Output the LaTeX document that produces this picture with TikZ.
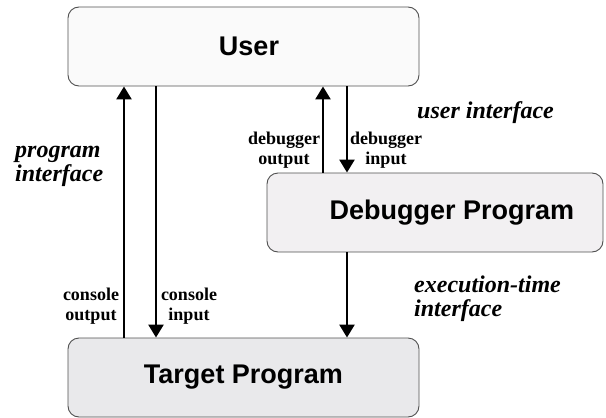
\documentclass[tikz,border=0pt]{standalone}
\usepackage{fontspec}
\setmainfont{Liberation Serif}
\setsansfont{Liberation Sans}
\usetikzlibrary{arrows.meta}
\definecolor{userfill}{HTML}{FAFAFA}
\definecolor{dbgfill}{HTML}{F2F0F2}
\definecolor{tgtfill}{HTML}{E9E9EB}
\definecolor{edge}{HTML}{505050}
\begin{document}
\begin{tikzpicture}[x=1pt,y=-1pt,
        block/.style={draw=edge,line width=0.9pt,rounded corners=11pt,minimum height=79pt,inner sep=0pt},
        blocktext/.style={font=\sffamily\bfseries\fontsize{27}{30}\selectfont,inner sep=0pt},
        flow/.style={line width=2.6pt,-{Triangle[length=13pt,width=15pt]}},
        tag/.style={font=\bfseries\fontsize{18}{20}\selectfont,align=center,inner sep=0pt},
        iface/.style={font=\bfseries\itshape\fontsize{24}{24}\selectfont,align=left,inner sep=0pt}]
    \useasboundingbox (0,0) rectangle (606,418);
    % the three parties
    \node[block,fill=userfill,minimum width=351pt] (user) at (243.5,46.5) {};
    \node[blocktext] (username) at (249,46) {User};
    \node[block,fill=dbgfill,minimum width=336pt] (debugger) at (435,212.5) {};
    \node[blocktext] (dbgname) at (452,213) {Debugger Program};
    \node[block,blocktext,fill=tgtfill,minimum width=351pt] (target) at (243.5,377.5) {Target Program};
    % console and debugger flows
    \draw[flow] ([xshift=-119.5]target.north) -- ([xshift=-119.5]user.south);
    \draw[flow] ([xshift=-87.5]user.south) -- ([xshift=-87.5]target.north);
    \draw[flow] ([xshift=-112]debugger.north) -- ([xshift=79.5]user.south);
    \draw[flow] ([xshift=103.5]user.south) -- ([xshift=-88]debugger.north);
    \draw[flow] ([xshift=-88]debugger.south) -- ([xshift=103.5]target.north);
    % labels
    \node[tag] (dbgout) at (284,150) {debugger\\output};
    \node[tag] (dbgin) at (386,150) {debugger\\input};
    \node[tag] (conout) at (91,306) {console\\output};
    \node[tag] (conin) at (189,306) {console\\input};
    \node[iface,anchor=base west] (uif) at (417,118) {user interface};
    \node[iface,anchor=west] (pif) at (15,166) {program\\interface};
    \node[iface,anchor=west] (eif) at (414,299) {execution-time\\interface};
\end{tikzpicture}
\end{document}
